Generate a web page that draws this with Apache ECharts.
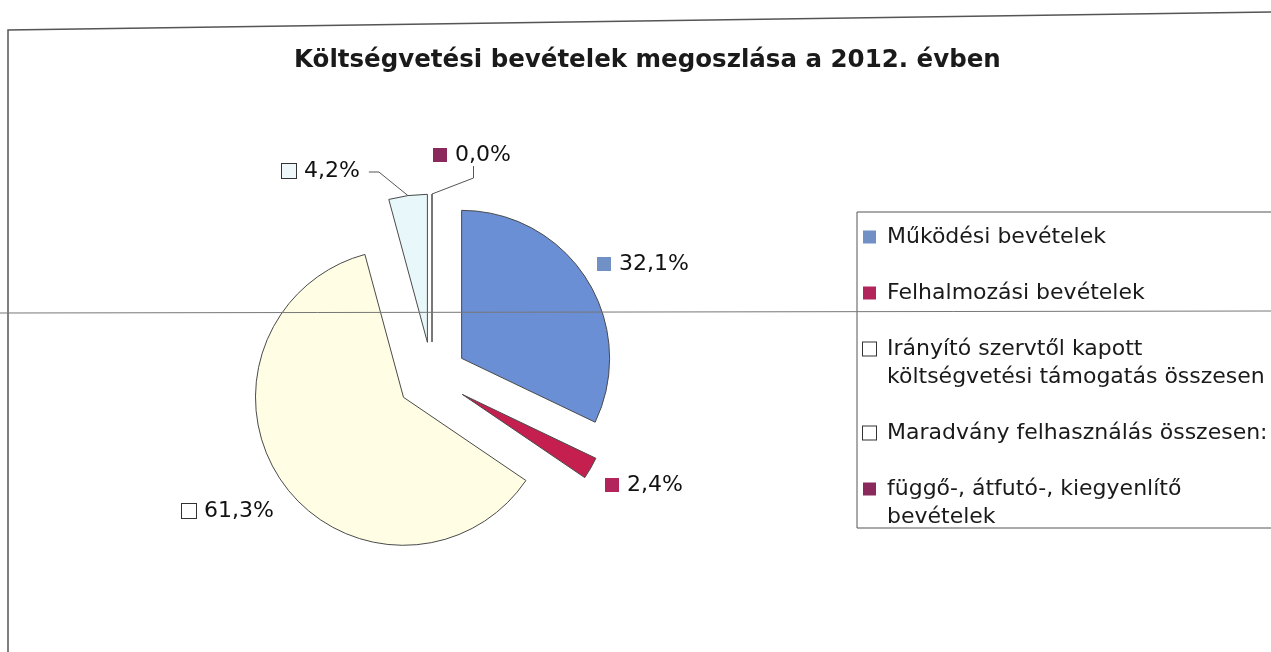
<!DOCTYPE html>
<html>
<head>
<meta charset="utf-8">
<script src="https://cdn.jsdelivr.net/npm/echarts@6/dist/echarts.min.js"></script>
<style>
  html, body { margin: 0; padding: 0; background: #fff; }
  #chart { width: 1271px; height: 652px; }
</style>
</head>
<body>
<div id="chart"></div>
<script>
// data
const categories = [
  'Működési bevételek',
  'Felhalmozási bevételek',
  'Irányító szervtől kapott költségvetési támogatás összesen',
  'Maradvány felhasználás összesen:',
  'függő-, átfutó-, kiegyenlítő bevételek'
];
const values = [32.1, 2.4, 61.3, 4.2, 0.0];
const legendLines = [
  ['Működési bevételek'],
  ['Felhalmozási bevételek'],
  ['Irányító szervtől kapott', 'költségvetési támogatás összesen'],
  ['Maradvány felhasználás összesen:'],
  ['függő-, átfutó-, kiegyenlítő', 'bevételek']
];

// styles / layout
const sliceColors = ['#6b8fd4', '#c41f4f', '#fffde4', '#e8f7fa', '#8b2a5b'];
const keyColors = ['#7090c6', '#b3245a', '#ffffff', '#ffffff', '#8a2a5c'];
const labelKeyColors = ['#7090c6', '#b3245a', '#ffffff', '#eef8fa', '#8a2a5c'];
const keyBorder = [false, false, true, true, false];
const labelSpots = [[597, 264], [605, 485], [182, 511], [282, 171], [433, 155]];
const PIE_CENTER = [432, 377];
const PIE_R = 148;
const EXPLODE = 35;
const FONT = 'DejaVu Sans';

function squares(cols, size, lh) {
  const r = {};
  cols.forEach((c, i) => {
    r['sq' + i] = {
      width: size, height: size, lineHeight: lh,
      backgroundColor: c,
      borderColor: keyBorder[i] ? '#333' : c,
      borderWidth: keyBorder[i] ? 1 : 0
    };
  });
  return r;
}

// outer edge point of an exploded slice, at its middle angle
function edgePoint(i) {
  const total = values.reduce((a, b) => a + b, 0);
  let cum = 0;
  for (let k = 0; k < i; k++) cum += values[k];
  const a = (90 - (cum + values[i] / 2) / total * 360) * Math.PI / 180;
  const d = EXPLODE + PIE_R;
  return [PIE_CENTER[0] + d * Math.cos(a), PIE_CENTER[1] - d * Math.sin(a)];
}

const chart = echarts.init(document.getElementById('chart'));

const labelRich = Object.assign(squares(labelKeyColors, 14, 24), {
  t: { fontFamily: FONT, fontSize: 22, color: '#111', padding: [0, 0, 0, 8] }
});
const legendRich = Object.assign(squares(keyColors, 13, 28), {
  t: { fontFamily: FONT, fontSize: 22, lineHeight: 28, color: '#1a1a1a', padding: [0, 0, 0, 11] },
  ind: { width: 13, lineHeight: 28 }
});

const option = {
  animation: false,
  backgroundColor: '#fff',
  title: {
    text: 'Költségvetési bevételek megoszlása a 2012. évben',
    left: 289,
    top: 43,
    textStyle: { fontFamily: FONT, fontSize: 24.5, fontWeight: 'bold', color: '#1a1a1a' }
  },
  legend: {
    orient: 'vertical',
    left: 857,
    top: 212,
    itemWidth: 0,
    itemHeight: 12,
    itemGap: 34,
    padding: [14, 80, 0, 0],
    borderColor: '#555',
    borderWidth: 1,
    selectedMode: false,
    icon: 'rect',
    data: categories.map(n => ({ name: n, itemStyle: { opacity: 0 } })),
    formatter: function (name) {
      const i = categories.indexOf(name);
      const lines = legendLines[i];
      let s = '{sq' + i + '|}{t|' + lines[0] + '}';
      for (let k = 1; k < lines.length; k++) s += '\n{ind|}{t|' + lines[k] + '}';
      return s;
    },
    textStyle: { rich: legendRich }
  },
  series: [
    {
      // exploded slices
      type: 'pie',
      center: PIE_CENTER,
      radius: PIE_R,
      startAngle: 90,
      clockwise: true,
      selectedMode: 'multiple',
      selectedOffset: EXPLODE,
      emphasis: { disabled: true },
      itemStyle: { borderColor: '#4a4a4a', borderWidth: 1 },
      label: { show: false },
      labelLine: { show: false },
      data: categories.map((n, i) => ({
        name: n,
        value: values[i],
        selected: true,
        itemStyle: { color: sliceColors[i] }
      }))
    },
    {
      // percentage labels
      type: 'pie',
      center: PIE_CENTER,
      radius: PIE_R,
      startAngle: 90,
      clockwise: true,
      silent: true,
      avoidLabelOverlap: false,
      emphasis: { disabled: true },
      itemStyle: { color: 'rgba(0,0,0,0)', borderWidth: 0 },
      label: {
        show: true,
        position: 'outside',
        formatter: function (p) {
          return '{sq' + p.dataIndex + '|}{t|' + p.value.toFixed(1).replace('.', ',') + '%}';
        },
        rich: labelRich
      },
      labelLine: { show: false, lineStyle: { color: '#555', width: 1 } },
      labelLayout: function (p) {
        const i = p.dataIndex;
        const s = labelSpots[i];
        const w = p.labelRect.width;
        const out = { x: s[0], y: s[1], align: 'left', verticalAlign: 'middle' };
        if (i === 3) {
          out.labelLinePoints = [[s[0] + w + 8, s[1] + 1], [s[0] + w + 18, s[1] + 1], edgePoint(i)];
        } else if (i === 4) {
          const lx = s[0] + w * 0.52;
          out.labelLinePoints = [[lx, s[1] + 11], [lx, s[1] + 23], edgePoint(i)];
        }
        return out;
      },
      data: categories.map((n, i) => ({
        name: n,
        value: values[i],
        labelLine: { show: i >= 3 }
      }))
    }
  ],
  graphic: [
    {
      type: 'polyline', z: 100, silent: true,
      shape: { points: [[8, 652], [8, 30], [1271, 12]] },
      style: { stroke: '#555', lineWidth: 1.5, fill: null }
    },
    {
      type: 'line', z: 100, silent: true,
      shape: { x1: 0, y1: 313, x2: 1271, y2: 311 },
      style: { stroke: '#777', lineWidth: 1 }
    }
  ]
};

chart.setOption(option);
</script>
</body>
</html>
